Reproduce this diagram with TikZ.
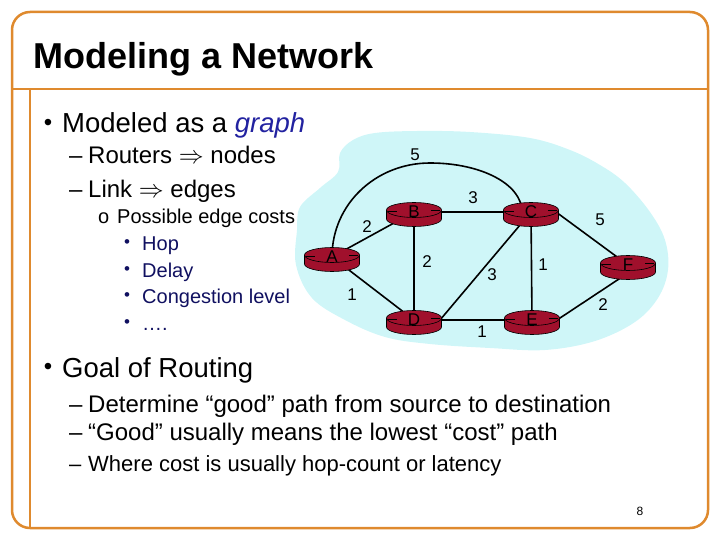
\documentclass[tikz,border=0pt]{standalone}
\usepackage{fontspec}
\setmainfont{Liberation Sans}
\usetikzlibrary{backgrounds}

\definecolor{nwOrange}{HTML}{DF8A2E}
\definecolor{nwCloud}{HTML}{CFF6F8}
\definecolor{nwRouter}{HTML}{A0102C}
\definecolor{nwGraphBlue}{HTML}{2222A0}
\definecolor{nwNavy}{HTML}{101060}

\begin{document}
\begin{tikzpicture}[x=1pt,y=-1pt,
  txt/.style={anchor=base west,inner sep=0pt},
  lvlone/.style={txt,font=\fontsize{27.5}{30}\selectfont},
  lvltwo/.style={txt,font=\fontsize{24}{28}\selectfont},
  lvlthree/.style={txt,font=\fontsize{20}{24}\selectfont},
  lvlfour/.style={txt,font=\fontsize{20}{24}\selectfont,text=nwNavy},
  bul/.style={inner sep=0pt,font=\fontsize{24}{26}\selectfont},
  smallbul/.style={inner sep=0pt,font=\fontsize{17}{19}\selectfont,text=nwNavy},
  cost/.style={inner sep=0pt,font=\fontsize{17}{20}\selectfont},
  rlabel/.style={inner sep=0pt,font=\fontsize{17}{20}\selectfont},
  link/.style={black,line width=1.6pt},
  frame/.style={nwOrange,line width=2.5pt}]
  \useasboundingbox (0,0) rectangle (720,540);

  % ---- slide frame ----
  \draw[frame,rounded corners=18pt] (12,12) rectangle (708,528);
  \draw[frame] (12,89) -- (708,89);
  \draw[frame] (30,89) -- (30,528);
  \node[txt,font=\fontsize{36}{40}\selectfont\bfseries] (title) at (33,69) {Modeling a Network};
  \node[font=\fontsize{12}{14}\selectfont,inner sep=0pt] (pagenum) at (640,511) {8};

  % ---- cloud ----
  \begin{scope}[on background layer]
    \fill[nwCloud] plot[smooth cycle,tension=0.6] coordinates {
      (297,230) (300,207) (320,188) (338,172) (340,153) (353,140) (375,133)
      (417,131) (470,132) (530,138) (570,150) (600,165) (625,183) (650,212)
      (665,240) (668,270) (658,298) (635,322) (595,341) (545,350) (490,348)
      (430,344) (385,337) (345,320) (312,298) (296,265)};
  \end{scope}

  % ---- routers ----
  \foreach \n/\x/\y in {A/332/257, B/414/212, C/531/212, D/414/320, E/532/320, F/628/265}{%
    \filldraw[fill=nwRouter,draw=black,line width=0.6pt] (\x,\y+7) ellipse[x radius=27.5pt,y radius=7.5pt];
    \fill[nwRouter] (\x-27.5,\y-2) rectangle (\x+27.5,\y+7);
    \draw[line width=0.6pt] (\x-27.5,\y-2) -- (\x-27.5,\y+7) (\x+27.5,\y-2) -- (\x+27.5,\y+7);
    \filldraw[fill=nwRouter,draw=black,line width=0.6pt] (\x,\y-2) ellipse[x radius=27.5pt,y radius=7.5pt];
    \draw[line width=0.6pt] (\x-26,\y-1) -- (\x-17,\y-1) (\x+17,\y-2) -- (\x+26,\y-2);
    \node[rlabel] (\n) at (\x,\y) {\n};
  }

  % ---- links ----
  \begin{scope}[on background layer]
    \draw[link] (A.center) -- (B.center);
    \draw[link] (A.center) -- (D.center);
    \draw[link] (B.center) -- (D.center);
    \draw[link] (B.center) -- (C.center);
    \draw[link] (C.center) -- ([xshift=26pt]D.center);
    \draw[link] (C.center) -- (E.center);
    \draw[link] ([xshift=25pt]C.center) -- (F.center);
    \draw[link] (D.center) -- (E.center);
    \draw[link] ([xshift=25pt]E.center) -- ([yshift=-8pt]F.center);
    \draw[link] (A.center) .. controls (332,204) and (376,163) .. (430,163)
                .. controls (481,163) and (522,184) .. ([xshift=-9pt]C.center);
  \end{scope}

  % ---- link costs ----
  \node[cost] (cAC) at (415,155) {5};
  \node[cost] (cBC) at (473,198) {3};
  \node[cost] (cAB) at (367,227) {2};
  \node[cost] (cCF) at (600,220) {5};
  \node[cost] (cBD) at (427,262) {2};
  \node[cost] (cCD) at (492,275) {3};
  \node[cost] (cCE) at (543,265) {1};
  \node[cost] (cAD) at (352,295) {1};
  \node[cost] (cDE) at (482,332) {1};
  \node[cost] (cEF) at (603,305) {2};

  % ---- bullet text, top ----
  \node[bul] (b1) at (48,125) {•};
  \node[lvlone] (t1) at (62,133) {Modeled as a \textcolor{nwGraphBlue}{\itshape graph}};
  \node[lvltwo] (d1) at (69,164) {–};
  \node[lvltwo] (t2) at (88,164) {Routers $\Rightarrow$ nodes};
  \node[lvltwo] (d2) at (69,197) {–};
  \node[lvltwo] (t3) at (88,197) {Link $\Rightarrow$ edges};
  \node[lvlthree] (o1) at (98,223) {o};
  \node[lvlthree] (t4) at (117,223) {Possible edge costs};
  \foreach \k/\yy/\lab in {1/250/Hop, 2/277/Delay, 3/303/Congestion level, 4/330/….}{%
    \node[smallbul] (sb\k) at (127,\yy-6) {•};
    \node[lvlfour] (s\k) at (142,\yy) {\lab};
  }

  % ---- bullet text, bottom ----
  \node[bul] (b2) at (48,369) {•};
  \node[lvlone] (t5) at (62,377) {Goal of Routing};
  \node[lvltwo] (d3) at (69,412) {–};
  \node[lvltwo] (t6) at (88,412) {Determine “good” path from source to destination};
  \node[lvltwo] (d4) at (69,440) {–};
  \node[lvltwo] (t7) at (88,440) {“Good” usually means the lowest “cost” path};
  \node[txt,font=\fontsize{22}{26}\selectfont] (d5) at (69,471) {–};
  \node[txt,font=\fontsize{22}{26}\selectfont] (t8) at (88,471) {Where cost is usually hop-count or latency};
\end{tikzpicture}
\end{document}
